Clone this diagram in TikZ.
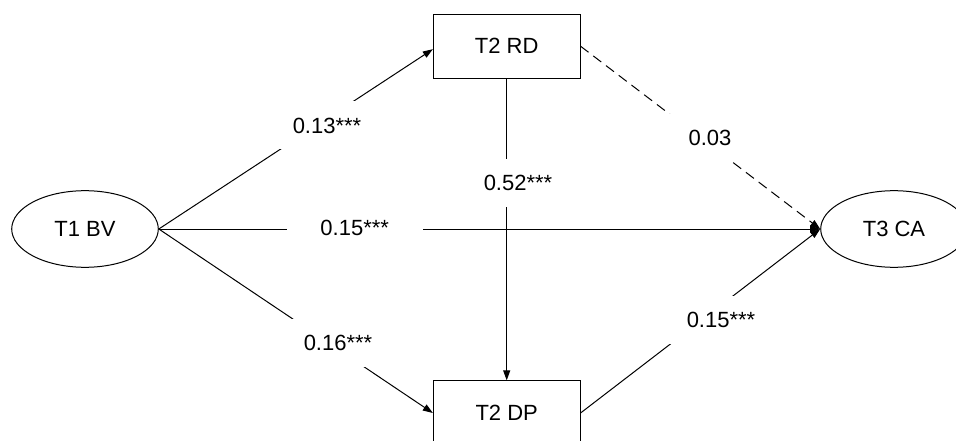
\documentclass[tikz,border=0pt]{standalone}
\usepackage{fontspec}
\setmainfont{Liberation Sans}
\usetikzlibrary{arrows.meta,shapes.geometric}
\begin{document}
\begin{tikzpicture}[x=1pt,y=-1pt,
  every node/.style={font=\fontsize{22}{26}\selectfont},
  latent/.style={draw,line width=1pt,ellipse,minimum width=146.6pt,minimum height=76.6pt,inner sep=0pt},
  observed/.style={draw,line width=1pt,rectangle,minimum width=146.7pt,minimum height=64.3pt,inner sep=0pt},
  effect/.style={line width=1pt,-{Triangle[length=10pt,width=7pt]}},
  nonsig/.style={effect,dash pattern=on 10pt off 6pt},
  coef/.style={fill=white,minimum width=136pt,minimum height=48pt,inner sep=0pt}]
\useasboundingbox (0,0) rectangle (956,441);
\clip (0,0) rectangle (956,441);
\node[latent] (bv) at (85,229) {T1 BV};
\node[observed] (rd) at (506.7,46.2) {T2 RD};
\node[observed] (dp) at (506.7,413) {T2 DP};
\node[latent] (ca) at (894,229) {T3 CA};
\draw[effect] (bv.east) -- ([yshift=-3pt]rd.west);
\draw[effect] (bv.east) -- (ca.west);
\draw[effect] (bv.east) -- (dp.west);
\draw[effect] (rd.south) -- (dp.north);
\draw[nonsig] (rd.east) -- (ca.west);
\draw[effect] (dp.east) -- (ca.west);
\node[coef] (l1) at (327,125.5) {0.13***};
\node[coef] (l2) at (354.7,228) {0.15***};
\node[coef] (l3) at (338,343) {0.16***};
\node[coef] (l4) at (518,183) {0.52***};
\node[coef] (l5) at (710,138) {0.03};
\node[coef] (l6) at (721,320) {0.15***};
\end{tikzpicture}
\end{document}
